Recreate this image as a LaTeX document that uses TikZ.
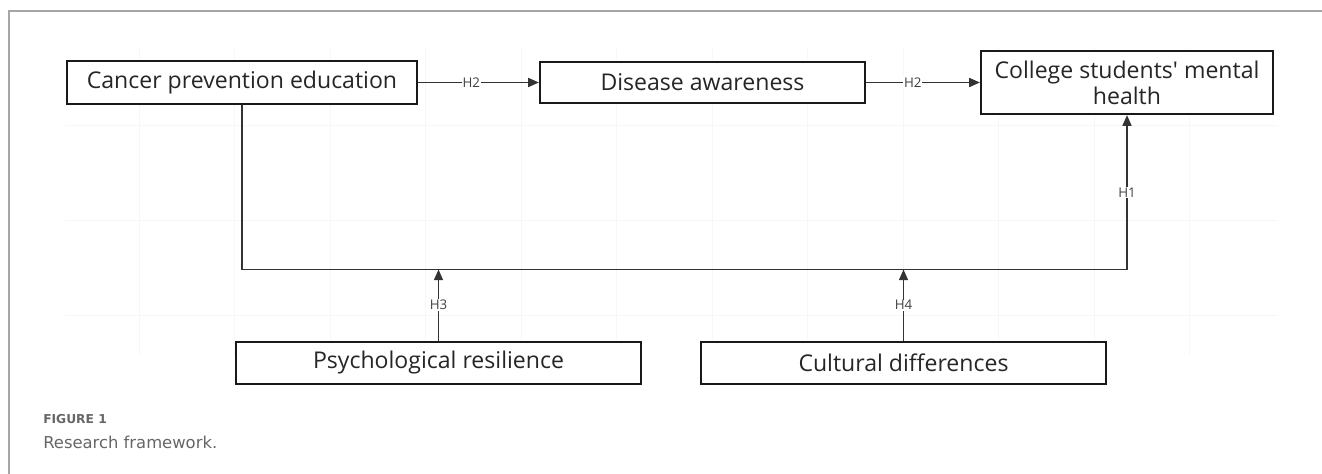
\documentclass[tikz,border=0pt]{standalone}
\usepackage{fontspec}
\setmainfont{Open Sans}
\newfontfamily\capfont{DejaVu Sans}
\usetikzlibrary{arrows.meta,positioning}

\begin{document}
\begin{tikzpicture}
    [x=0.75pt, y=-0.75pt,
    factor/.style={draw=black!90, fill=white, line width=1.7pt, inner sep=0pt,
        align=center, text=black!85, font=\fontsize{17.3}{19.5}\selectfont},
    link/.style={draw=black!80, line width=1pt, -{Triangle[length=8pt,width=6.8pt]}},
    hyp/.style={fill=white, inner sep=0.6pt, text=black!75, font=\fontsize{10}{11}\selectfont},
    gridline/.style={draw=black!3, line width=0.6pt}]
        \useasboundingbox (0,0) rectangle (1322,474);
        %% frame and faint grid
        \draw[black!35, line width=0.8pt] (1322,11) -- (9,11) -- (9,474);
        \foreach \i in {0,...,11}
            \draw[gridline] ({139+95.5*\i},47) -- ({139+95.5*\i},355);
        \foreach \gy in {125,220,315}
            \draw[gridline] (65,\gy) -- (1278,\gy);

        %% Factors
        \node[factor, minimum width=262.5pt, minimum height=32.25pt] (cpe) at (242,82.5) {Cancer prevention education};
        \node[factor, minimum width=243.75pt, minimum height=30.75pt] (dis) at (702.5,82.5) {Disease awareness};
        \node[factor, minimum width=219pt, minimum height=47.25pt] (csmh) at (1127,82.5) {College students\textquotesingle{} mental\\health};
        \node[factor, minimum width=303.75pt, minimum height=31.5pt] (psy) at (438.5,363) {Psychological resilience};
        \node[factor, minimum width=303.75pt, minimum height=31.5pt] (cul) at (903.5,363) {Cultural differences};
        \coordinate (j1) at (cpe.south |- 0,269.5);
        \coordinate (j2) at (csmh.south |- 0,269.5);

        %% Paths
        \draw[link] (cpe) -- node[hyp, pos=0.44] {H2} (dis);
        \draw[link] (dis) -- node[hyp, pos=0.41] {H2} (csmh);
        \draw[link] (cpe.south) -- (j1) -- (j2) -- node[hyp] {H1} (csmh.south);
        \draw[link] (psy.north) -- node[hyp] {H3} (psy.north |- j1);
        \draw[link] (cul.north) -- node[hyp] {H4} (cul.north |- j1);

        %% Caption
        \node[anchor=west, inner sep=0pt, text=black!60, font=\capfont\bfseries\fontsize{9.2}{11}\selectfont] (fig) at (43,419) {FIGURE 1};
        \node[anchor=west, inner sep=0pt, text=black!60, font=\capfont\fontsize{12.3}{14}\selectfont] (cap) at (43,442) {Research framework.};
    \end{tikzpicture}
\end{document}
